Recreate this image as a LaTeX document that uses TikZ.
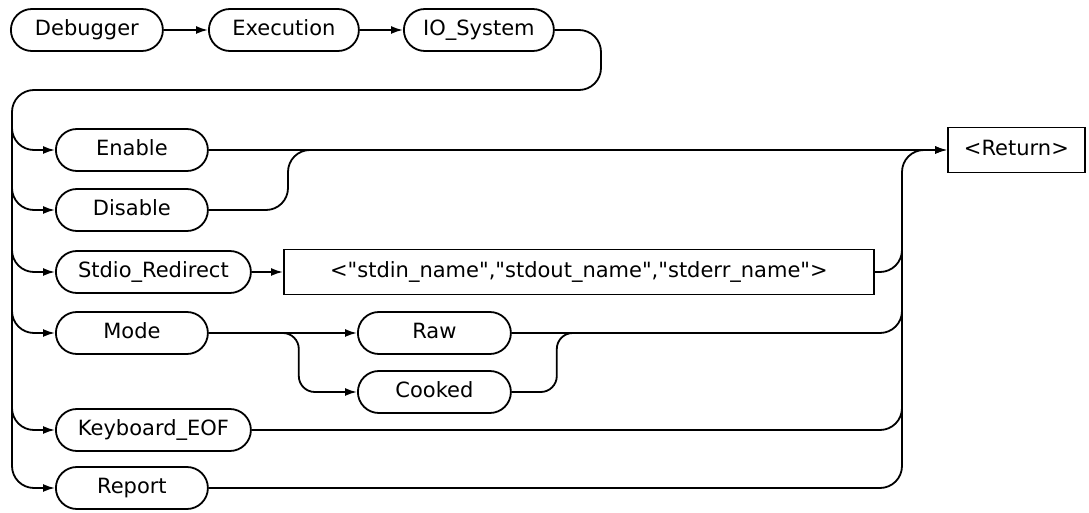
\documentclass[tikz,border=0pt]{standalone}
\usepackage{fontspec}
\setmainfont{DejaVu Sans}
\usetikzlibrary{arrows.meta,shapes.misc}
\begin{document}
\begin{tikzpicture}[x=0.5pt,y=-0.5pt,line width=0.9pt,
    font=\fontsize{10.5}{12}\selectfont,
    kw/.style={draw,rounded rectangle,minimum height=21pt,anchor=west,inner sep=0pt,text height=8pt,text depth=2pt},
    arg/.style={draw,rectangle,minimum height=22.5pt,anchor=west,inner sep=0pt,text height=8pt,text depth=2pt},
    flow/.style={-{Latex[length=6pt,width=4pt]}},
    curvy/.style={rounded corners=11pt}]
    \useasboundingbox (0,0) rectangle (1089,513);
    \node[kw,minimum width=76pt] (dbg) at (10,30) {Debugger};
    \node[kw,minimum width=75pt] (exe) at (208,30) {Execution};
    \node[kw,minimum width=75pt] (io) at (403,30) {IO\_System};
    \node[kw,minimum width=76pt] (enable) at (55,150) {Enable};
    \node[kw,minimum width=76pt] (disable) at (55,210) {Disable};
    \node[kw,minimum width=97.5pt] (stdio) at (55,272) {Stdio\_Redirect};
    \node[arg,minimum width=295pt] (txt) at (283,272) {<\textquotedbl stdin\_name\textquotedbl,\textquotedbl stdout\_name\textquotedbl,\textquotedbl stderr\_name\textquotedbl>};
    \node[kw,minimum width=76pt] (mode) at (55,333) {Mode};
    \node[kw,minimum width=76.5pt] (raw) at (357,333) {Raw};
    \node[kw,minimum width=76.5pt] (cooked) at (357,392) {Cooked};
    \node[kw,minimum width=97.5pt] (kbd) at (55,430) {Keyboard\_EOF};
    \node[kw,minimum width=76pt] (report) at (55,488) {Report};
    \node[arg,minimum width=68.5pt] (ret) at (947,150) {<Return>};
    \coordinate (lbus) at (12,90);
    \coordinate (rbus) at (902,150);
    \coordinate (dj) at (288,150);
    \draw[flow] (dbg) -- (exe);
    \draw[flow] (exe) -- (io);
    \draw[flow,curvy] (io.east) -- (601,30) -- (601,90) -- (lbus) -- (lbus |- report.west) -- (report.west);
    \foreach \n in {enable,disable,stdio,mode,kbd}
        \draw[flow,curvy] ([yshift=16pt]lbus |- \n.west) |- (\n.west);
    \draw[flow] (stdio) -- (txt);
    \draw[flow] (mode) -- (raw);
    \draw[flow,rounded corners=8pt] ([xshift=34pt]mode.east) -- ([xshift=45pt]mode.east) |- (cooked.west);
    \draw[rounded corners=8pt] (cooked.east) -- ++(45,0) |- ([xshift=35pt]raw.east);
    \draw[flow] (enable.east) -- (ret.west);
    \draw[curvy] (disable.east) -| (dj) -- ++(30,0);
    \draw[flow,curvy] (report.east) -| (rbus) -- (ret.west);
    \foreach \n in {txt,raw,kbd}
        \draw[curvy] (\n.east) -| ([yshift=12pt]rbus |- \n.east);
\end{tikzpicture}
\end{document}
